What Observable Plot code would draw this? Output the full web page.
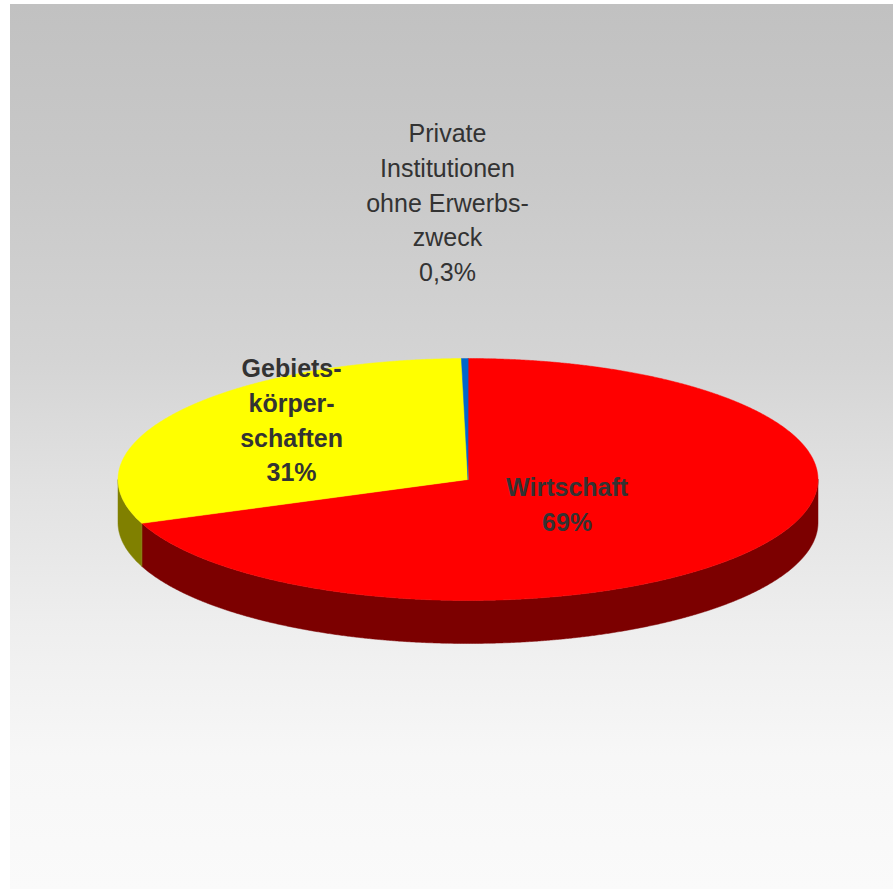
<!DOCTYPE html>
<html>
<head>
<meta charset="utf-8">
<script src="https://cdn.jsdelivr.net/npm/d3@7"></script>
<script src="https://cdn.jsdelivr.net/npm/@observablehq/plot@0.6"></script>
<style>
  html, body { margin: 0; padding: 0; background: #ffffff; }
  #chart svg { display: block; }
</style>
</head>
<body>
<div id="chart"></div>
<script>
// ---- data ----
const categories = ["Wirtschaft", "Gebietskörperschaften", "Private Institutionen ohne Erwerbszweck"];
const values = [69.1, 30.6, 0.3];
const labelTexts = ["Wirtschaft\n69%", "Gebiets-\nkörper-\nschaften\n31%", "Private\nInstitutionen\nohne Erwerbs-\nzweck\n0,3%"];

// ---- styles / layout ----
const topColors = ["#ff0000", "#ffff00", "#0066cc"];
const sideColors = ["#7c0000", "#808000", "#003366"];
const labelBold = [true, true, false];
const labelRadius = [0.35, 0.6, 2.28];
const labelDx = [-2, -2, -13];
const labelDy = [-1, -21, -3];

const W = 893, H = 889;
const cx = 467.5, cy = 479, rx = 350, ry = 121, depthPx = 43;
const depth = depthPx / ry;

const arcs = d3.pie().sort(null).startAngle(0).endAngle(2 * Math.PI)(values);

const step = Math.PI / 720;
function arcPoints(a0, a1, dv = 0) {
  const pts = [];
  const n = Math.max(2, Math.ceil((a1 - a0) / step));
  for (let k = 0; k <= n; k++) {
    const a = a0 + (a1 - a0) * k / n;
    pts.push({u: Math.sin(a), v: -Math.cos(a) + dv});
  }
  return pts;
}

const marks = [];
// side faces (front half only: angles between PI/2 and 3PI/2)
arcs.forEach((d, i) => {
  const a0 = Math.max(d.startAngle, Math.PI / 2);
  const a1 = Math.min(d.endAngle, 3 * Math.PI / 2);
  if (a1 <= a0) return;
  const topEdge = arcPoints(a0, a1, 0);
  const bottomEdge = arcPoints(a0, a1, depth).reverse();
  const poly = topEdge.concat(bottomEdge);
  marks.push(Plot.line(poly, {x: "u", y: "v", curve: "linear-closed", fill: sideColors[i], stroke: sideColors[i], strokeWidth: 0.5}));
});
// top faces
arcs.forEach((d, i) => {
  const poly = [{u: 0, v: 0}].concat(arcPoints(d.startAngle, d.endAngle, 0));
  marks.push(Plot.line(poly, {x: "u", y: "v", curve: "linear-closed", fill: topColors[i], stroke: topColors[i], strokeWidth: 0.5}));
});
// labels
const labels = arcs.map((d, i) => {
  const mid = (d.startAngle + d.endAngle) / 2;
  return {u: Math.sin(mid) * labelRadius[i], v: -Math.cos(mid) * labelRadius[i], text: labelTexts[i], bold: labelBold[i], i};
});
labels.forEach(l => {
  marks.push(Plot.text([l], {
    x: "u", y: "v", text: "text",
    dx: labelDx[l.i], dy: labelDy[l.i],
    fontSize: 25, lineHeight: 1.39,
    fontWeight: l.bold ? "bold" : "normal",
    fontFamily: "'Liberation Sans', Arial, sans-serif",
    fill: "#333333", textAnchor: "middle"
  }));
});

const chart = Plot.plot({
  width: W, height: H,
  margin: 0,
  x: {type: "linear", domain: [-cx / rx, (W - cx) / rx], range: [0, W], axis: null},
  y: {type: "linear", domain: [-cy / ry, (H - cy) / ry], range: [0, H], axis: null},
  style: {
    background: "linear-gradient(to bottom, #c1c1c1 0%, #c9c9c9 20%, #d4d4d4 40%, #e2e2e2 55%, #eeeeee 70%, #f7f7f7 85%, #fafafa 100%) no-repeat 10px 4px / 883px 885px, #ffffff",
    overflow: "visible"
  },
  marks
});
document.getElementById("chart").appendChild(chart);
</script>
</body>
</html>
